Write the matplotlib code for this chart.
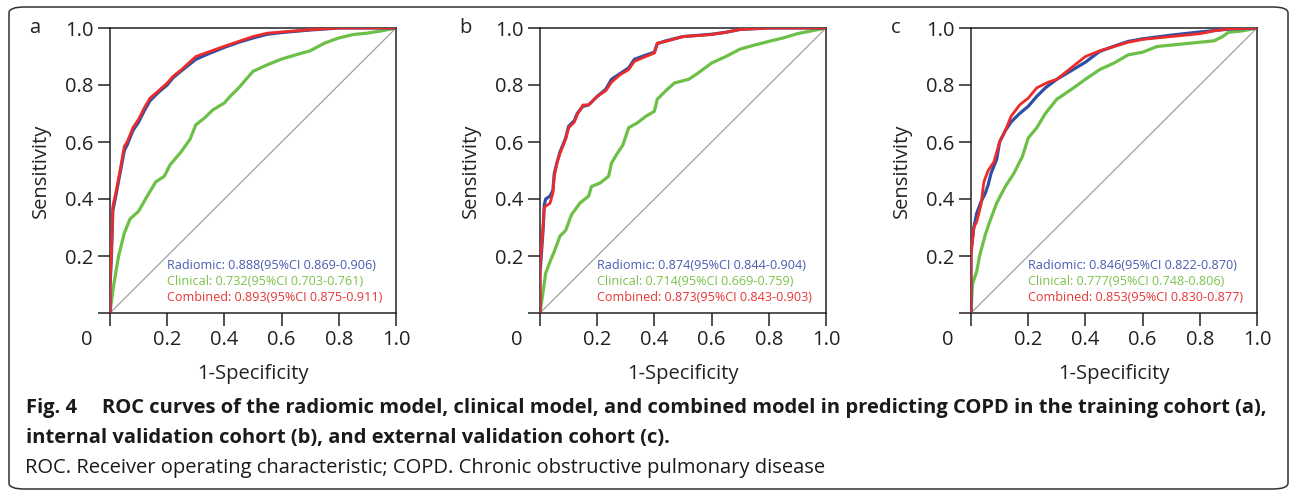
import matplotlib.pyplot as plt
from matplotlib.patches import FancyBboxPatch

# ---- data ----
panel_letters = ["a", "b", "c"]

# panel a (training cohort)
a_rad_fpr = [0, 0, 0.005, 0.01, 0.02, 0.035, 0.05, 0.06, 0.08, 0.1, 0.12, 0.14, 0.17, 0.2, 0.22, 0.25,
             0.3, 0.35, 0.4, 0.45, 0.5, 0.55, 0.6, 0.7, 0.8, 1.0]
a_rad_tpr = [0, 0.09, 0.2, 0.36, 0.41, 0.49, 0.57, 0.59, 0.64, 0.67, 0.71, 0.745, 0.775, 0.8, 0.825, 0.85,
             0.89, 0.912, 0.932, 0.95, 0.965, 0.978, 0.984, 0.993, 1.0, 1.0]
a_com_fpr = [0, 0, 0.005, 0.01, 0.02, 0.035, 0.05, 0.06, 0.08, 0.1, 0.12, 0.14, 0.17, 0.2, 0.22, 0.25,
             0.3, 0.35, 0.4, 0.45, 0.5, 0.55, 0.6, 0.7, 0.8, 1.0]
a_com_tpr = [0, 0.1, 0.21, 0.375, 0.42, 0.5, 0.585, 0.6, 0.65, 0.68, 0.72, 0.754, 0.78, 0.807, 0.83, 0.854,
             0.9, 0.918, 0.936, 0.953, 0.97, 0.982, 0.986, 0.994, 1.0, 1.0]
a_cli_fpr = [0, 0.01, 0.02, 0.03, 0.05, 0.07, 0.1, 0.13, 0.16, 0.19, 0.21, 0.25, 0.28, 0.3, 0.33, 0.36,
             0.4, 0.42, 0.45, 0.5, 0.55, 0.6, 0.65, 0.7, 0.75, 0.8, 0.85, 0.9, 0.95, 1.0]
a_cli_tpr = [0, 0.08, 0.14, 0.2, 0.28, 0.33, 0.357, 0.41, 0.46, 0.48, 0.52, 0.567, 0.61, 0.66, 0.684, 0.713,
             0.737, 0.76, 0.79, 0.848, 0.871, 0.891, 0.906, 0.92, 0.947, 0.965, 0.977, 0.982, 0.99, 1.0]

# panel b (internal validation)
b_rad_fpr = [0, 0, 0.01, 0.015, 0.02, 0.035, 0.045, 0.05, 0.06, 0.07, 0.09, 0.1, 0.12, 0.13, 0.15, 0.17,
             0.2, 0.23, 0.25, 0.28, 0.31, 0.33, 0.37, 0.4, 0.41, 0.44, 0.5, 0.6, 0.65, 0.7, 0.8, 1.0]
b_rad_tpr = [0, 0.14, 0.28, 0.38, 0.4, 0.41, 0.43, 0.49, 0.53, 0.565, 0.615, 0.655, 0.675, 0.7, 0.725, 0.73,
             0.76, 0.785, 0.82, 0.84, 0.86, 0.89, 0.905, 0.915, 0.945, 0.955, 0.97, 0.978, 0.985, 0.995, 1.0, 1.0]
b_com_fpr = [0, 0, 0.01, 0.015, 0.02, 0.035, 0.045, 0.05, 0.06, 0.07, 0.09, 0.1, 0.12, 0.13, 0.15, 0.17,
             0.2, 0.23, 0.25, 0.28, 0.31, 0.33, 0.37, 0.4, 0.41, 0.44, 0.5, 0.6, 0.65, 0.7, 0.8, 1.0]
b_com_tpr = [0, 0.17, 0.29, 0.37, 0.375, 0.385, 0.42, 0.48, 0.53, 0.56, 0.61, 0.65, 0.67, 0.696, 0.73, 0.73,
             0.76, 0.78, 0.81, 0.836, 0.854, 0.883, 0.9, 0.912, 0.947, 0.953, 0.97, 0.977, 0.985, 0.995, 1.0, 1.0]
b_cli_fpr = [0, 0.01, 0.02, 0.035, 0.05, 0.07, 0.09, 0.11, 0.14, 0.17, 0.18, 0.21, 0.24, 0.25, 0.27, 0.29,
             0.31, 0.34, 0.37, 0.4, 0.41, 0.44, 0.47, 0.52, 0.55, 0.6, 0.65, 0.7, 0.75, 0.8, 0.85, 0.9, 0.95, 1.0]
b_cli_tpr = [0, 0.07, 0.14, 0.18, 0.216, 0.27, 0.29, 0.345, 0.386, 0.41, 0.444, 0.456, 0.48, 0.526, 0.56, 0.59,
             0.65, 0.667, 0.69, 0.708, 0.75, 0.78, 0.807, 0.82, 0.84, 0.877, 0.9, 0.926, 0.94, 0.953, 0.965,
             0.98, 0.99, 1.0]

# panel c (external validation)
c_rad_fpr = [0, 0, 0.01, 0.02, 0.035, 0.05, 0.06, 0.07, 0.09, 0.1, 0.12, 0.14, 0.17, 0.2, 0.23, 0.26,
             0.3, 0.35, 0.4, 0.45, 0.5, 0.55, 0.6, 0.7, 0.8, 0.9, 1.0]
c_rad_tpr = [0, 0.22, 0.3, 0.35, 0.39, 0.42, 0.45, 0.49, 0.54, 0.6, 0.64, 0.67, 0.7, 0.725, 0.76, 0.79,
             0.82, 0.85, 0.88, 0.918, 0.936, 0.953, 0.962, 0.975, 0.986, 0.996, 1.0]
c_com_fpr = [0, 0, 0.01, 0.02, 0.035, 0.045, 0.06, 0.08, 0.1, 0.12, 0.14, 0.17, 0.2, 0.23, 0.27, 0.3,
             0.35, 0.4, 0.45, 0.5, 0.55, 0.6, 0.7, 0.8, 0.85, 0.9, 1.0]
c_com_tpr = [0, 0.2, 0.3, 0.32, 0.38, 0.46, 0.5, 0.53, 0.6, 0.64, 0.69, 0.73, 0.754, 0.79, 0.81, 0.82,
             0.86, 0.9, 0.92, 0.935, 0.95, 0.96, 0.97, 0.98, 0.99, 0.997, 1.0]
c_cli_fpr = [0, 0.005, 0.02, 0.03, 0.05, 0.07, 0.09, 0.12, 0.15, 0.18, 0.2, 0.23, 0.26, 0.3, 0.35, 0.4,
             0.45, 0.5, 0.55, 0.6, 0.65, 0.7, 0.8, 0.85, 0.88, 0.9, 0.95, 1.0]
c_cli_tpr = [0, 0.1, 0.146, 0.2, 0.275, 0.333, 0.386, 0.444, 0.49, 0.55, 0.614, 0.65, 0.7, 0.75, 0.784, 0.82,
             0.854, 0.877, 0.906, 0.915, 0.935, 0.94, 0.95, 0.955, 0.97, 0.985, 0.99, 1.0]

legend_a = ["Radiomic: 0.888(95%CI 0.869-0.906)", "Clinical: 0.732(95%CI 0.703-0.761)",
            "Combined: 0.893(95%CI 0.875-0.911)"]
legend_b = ["Radiomic: 0.874(95%CI 0.844-0.904)", "Clinical: 0.714(95%CI 0.669-0.759)",
            "Combined: 0.873(95%CI 0.843-0.903)"]
legend_c = ["Radiomic: 0.846(95%CI 0.822-0.870)", "Clinical: 0.777(95%CI 0.748-0.806)",
            "Combined: 0.853(95%CI 0.830-0.877)"]

ticks = [0, 0.2, 0.4, 0.6, 0.8, 1.0]
tick_labels = ["", "0.2", "0.4", "0.6", "0.8", "1.0"]

caption_fig = "Fig. 4"
caption_bold_1 = ("ROC curves of the radiomic model, clinical model, and combined model "
                  "in predicting COPD in the training cohort (a),")
caption_bold_2 = "internal validation cohort (b), and external validation cohort (c)."
caption_plain = "ROC. Receiver operating characteristic; COPD. Chronic obstructive pulmonary disease"

panels = [
    (a_rad_fpr, a_rad_tpr, a_cli_fpr, a_cli_tpr, a_com_fpr, a_com_tpr, legend_a),
    (b_rad_fpr, b_rad_tpr, b_cli_fpr, b_cli_tpr, b_com_fpr, b_com_tpr, legend_b),
    (c_rad_fpr, c_rad_tpr, c_cli_fpr, c_cli_tpr, c_com_fpr, c_com_tpr, legend_c),
]

BLUE = "#2d4fa6"
GREEN = "#6cbf47"
RED = "#ee2b2b"
TXT_BLUE = "#4a5cb0"
TXT_GREEN = "#7cc24c"
TXT_RED = "#e83535"

plt.rcParams["font.family"] = ["Open Sans", "DejaVu Sans"]

fig = plt.figure(figsize=(12.92, 4.96), dpi=100)

lefts = [110, 540, 971]
for i, (rf, rt, cf, ct, mf, mt, leg) in enumerate(panels):
    ax = fig.add_axes([lefts[i] / 1292, 1 - 313 / 496, 286 / 1292, 285 / 496])
    ax.plot([0, 1], [0, 1], color="#a0a0a0", lw=0.9, zorder=1)
    ax.plot(cf, ct, color=GREEN, lw=2.3, zorder=2)
    ax.plot(rf, rt, color=BLUE, lw=2.3, zorder=3)
    ax.plot(mf, mt, color=RED, lw=2.0, zorder=4)
    ax.set_xlim(0, 1)
    ax.set_ylim(0, 1)
    ax.set_xticks(ticks)
    ax.set_xticklabels(tick_labels)
    ax.set_yticks(ticks)
    ax.set_yticklabels(tick_labels)
    ax.tick_params(direction="out", length=9, width=1.1, labelsize=14.5, pad=3, colors="#222222")
    for s in ax.spines.values():
        s.set_linewidth(1.1)
        s.set_color("#222222")
    ax.set_xlabel("1-Specificity", fontsize=14.5, labelpad=10, color="#222222")
    ax.set_ylabel("Sensitivity", fontsize=14.5, labelpad=10, color="#222222")
    ax.text(-0.08, -0.095, "0", transform=ax.transAxes, fontsize=14.5, ha="center", va="center",
            color="#222222")
    ax.text(0.198, 0.166, leg[0], color=TXT_BLUE, fontsize=9.1, va="center")
    ax.text(0.198, 0.109, leg[1], color=TXT_GREEN, fontsize=9.1, va="center")
    ax.text(0.198, 0.055, leg[2], color=TXT_RED, fontsize=9.1, va="center")
    fig.text((lefts[i] - 75) / 1292, 1 - 28 / 496, panel_letters[i], fontsize=14.5, ha="center",
             va="center", color="#222222")

# rounded frame around the whole figure
frame = FancyBboxPatch((9 / 1292, 7 / 496), 1279 / 1292, 482 / 496,
                       boxstyle="round,pad=0,rounding_size=0.012", transform=fig.transFigure,
                       fill=False, edgecolor="#333333", lw=1.1)
fig.patches.append(frame)

fig.text(26 / 1292, 1 - 408 / 496, caption_fig, fontsize=14.5, fontweight="bold",
         va="center", color="#1a1a1a")
fig.text(102 / 1292, 1 - 408 / 496, caption_bold_1, fontsize=14.5, fontweight="bold",
         va="center", color="#1a1a1a")
fig.text(26 / 1292, 1 - 438 / 496, caption_bold_2, fontsize=14.5, fontweight="bold",
         va="center", color="#1a1a1a")
fig.text(25 / 1292, 1 - 468 / 496, caption_plain, fontsize=14.5,
         va="center", color="#1a1a1a")

fig.savefig("out.png", dpi=100)
